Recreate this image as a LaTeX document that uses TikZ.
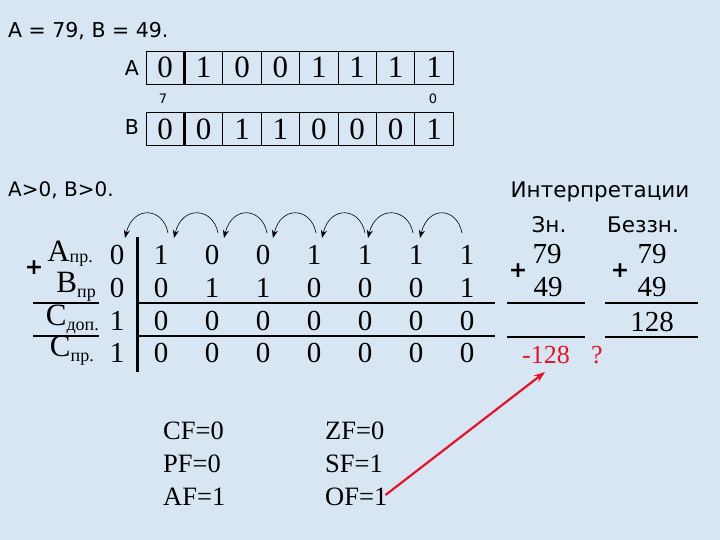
\documentclass[tikz,border=0pt]{standalone}
\usepackage{fontspec}
\setmainfont{Liberation Serif}
\newfontfamily\sansf{DejaVu Sans}
\usetikzlibrary{arrows.meta}
\definecolor{bgblue}{RGB}{216,229,243}
\definecolor{redline}{RGB}{225,20,40}
\begin{document}
\begin{tikzpicture}[x=1pt,y=-1pt,
  sanstxt/.style={font=\sansf\fontsize{20.5}{24}\selectfont, inner sep=0},
  smallsans/.style={font=\sansf\fontsize{13}{15}\selectfont, inner sep=0},
  cellbox/.style={draw, line width=0.8pt, minimum width=38.4pt, minimum height=33pt, inner sep=0, font=\fontsize{31}{31}\selectfont},
  dig/.style={font=\fontsize{29}{29}\selectfont, inner sep=0},
  lbl/.style={font=\fontsize{31}{31}\selectfont, inner sep=0, anchor=east},
  flag/.style={font=\fontsize{26.5}{28}\selectfont, inner sep=0, anchor=west},
  plus/.style={font=\sansf\bfseries\fontsize{22}{22}\selectfont, inner sep=0},
  hop/.style={-{Stealth[length=8pt,width=6pt]}, line width=0.6pt},
  rule/.style={line width=1.5pt}]
\fill[bgblue] (0,0) rectangle (720,540);
\useasboundingbox (0,0) rectangle (720,540);

% header
\node[sanstxt, anchor=west] (hdr) at (8,31) {A = 79, B = 49.};
\node[sanstxt] (la) at (132,68) {A};
\node[sanstxt] (lb) at (132,127) {B};
\node[smallsans] (n7) at (163,99) {7};
\node[smallsans] (n0) at (433,99) {0};
\foreach \v [count=\i] in {0,1,0,0,1,1,1,1}
  \node[cellbox] (A\i) at ({146+38.4*(\i-0.5)},67.5) {\v};
\foreach \v [count=\i] in {0,0,1,1,0,0,0,1}
  \node[cellbox] (B\i) at ({146+38.4*(\i-0.5)},129) {\v};
\draw[line width=3pt] (A1.north east) -- (A1.south east);
\draw[line width=3pt] (B1.north east) -- (B1.south east);

% section 2
\node[sanstxt, font=\sansf\fontsize{20}{24}\selectfont, anchor=west] (cond) at (8,190) {A>0, B>0.};

\def\colx{{117,161,212,263,314,365,416,467}}
\foreach \v [count=\i] in {0,1,0,0,1,1,1,1}
  \node[dig] (r1c\i) at ({\colx[\i-1]},255) {\v};
\foreach \v [count=\i] in {0,0,1,1,0,0,0,1}
  \node[dig] (r2c\i) at ({\colx[\i-1]},288) {\v};
\foreach \v [count=\i] in {1,0,0,0,0,0,0,0}
  \node[dig] (r3c\i) at ({\colx[\i-1]},321) {\v};
\foreach \v [count=\i] in {1,0,0,0,0,0,0,0}
  \node[dig] (r4c\i) at ({\colx[\i-1]},353) {\v};

\node[lbl] (lA) at (93,254) {A\raisebox{-1pt}{\fontsize{18}{18}\selectfont пр.}};
\node[lbl] (lB) at (96,287) {B\raisebox{-5pt}{\fontsize{18}{18}\selectfont пр}};
\node[lbl] (lC) at (99,319) {C\raisebox{-5pt}{\fontsize{18}{18}\selectfont доп.}};
\node[lbl] (lD) at (94,351) {C\raisebox{-5pt}{\fontsize{18}{18}\selectfont пр.}};
\node[plus] (pl) at (34,268) {+};

\coordinate (vt) at (137,237);
\coordinate (vb) at (137,372);
\draw[line width=3pt] (vt) -- (vb);
\coordinate (h1l) at (33,303); \coordinate (h1m) at (99,303);
\coordinate (h1s) at (137,303); \coordinate (h1e) at (495,303);
\coordinate (h2l) at (33,336); \coordinate (h2m) at (99,336);
\coordinate (h2s) at (137,336); \coordinate (h2e) at (495,336);
\draw[rule] (h1l) -- (h1m);
\draw[rule] (h2l) -- (h2m);
\draw[rule] (h1s) -- (h1e);
\draw[rule] (h2s) -- (h2e);

% carry arrows
\foreach \s/\t [count=\k] in {462/420, 413/368, 365/322, 316/273, 267/224, 218/174, 168/125}{
  \coordinate (hs\k) at (\s,233);
  \coordinate (ht\k) at (\t,238);
  \draw[hop] (hs\k) .. controls (\s-5,207) and (\t+8,205) .. (ht\k);
}

% interpretations
\node[sanstxt, font=\sansf\fontsize{21.5}{24}\selectfont] (interp) at (600,192) {Интерпретации};
\node[sanstxt, font=\sansf\fontsize{21.5}{24}\selectfont] (zn) at (549,225) {Зн.};
\node[sanstxt, font=\sansf\fontsize{21.5}{24}\selectfont] (bzn) at (643,225) {Беззн.};
\node[dig] (s79) at (547,254) {79};
\node[dig] (s49) at (548,287) {49};
\node[plus] (sp) at (518,271) {+};
\node[dig] (u79) at (652,254) {79};
\node[dig] (u49) at (652,287) {49};
\node[plus] (up) at (620,271) {+};
\node[dig] (u128) at (652,322) {128};
\coordinate (sl1) at (507,303); \coordinate (sr1) at (585,303);
\coordinate (sl2) at (507,337); \coordinate (sr2) at (585,337);
\coordinate (ul1) at (605,303); \coordinate (ur1) at (698,303);
\coordinate (ul2) at (605,337); \coordinate (ur2) at (698,337);
\draw[rule] (sl1) -- (sr1);
\draw[rule] (sl2) -- (sr2);
\draw[rule] (ul1) -- (ur1);
\draw[rule] (ul2) -- (ur2);
\node[dig, text=redline, font=\fontsize{26}{26}\selectfont] (neg) at (546,355) {-128};
\node[dig, text=redline, font=\fontsize{26}{26}\selectfont] (q) at (597,355) {?};

% flags
\node[flag] (cf) at (163,431) {CF=0};
\node[flag] (pf) at (163,464) {PF=0};
\node[flag] (af) at (163,497) {AF=1};
\node[flag] (zf) at (325,431) {ZF=0};
\node[flag] (sf) at (325,464) {SF=1};
\node[flag] (of) at (325,497) {OF=1};
\coordinate (rt) at (545,372);
\draw[redline, line width=2.2pt, -{Stealth[length=11pt,width=8pt]}] (of.east) ++(-2,-2) -- (rt);
\end{tikzpicture}
\end{document}
